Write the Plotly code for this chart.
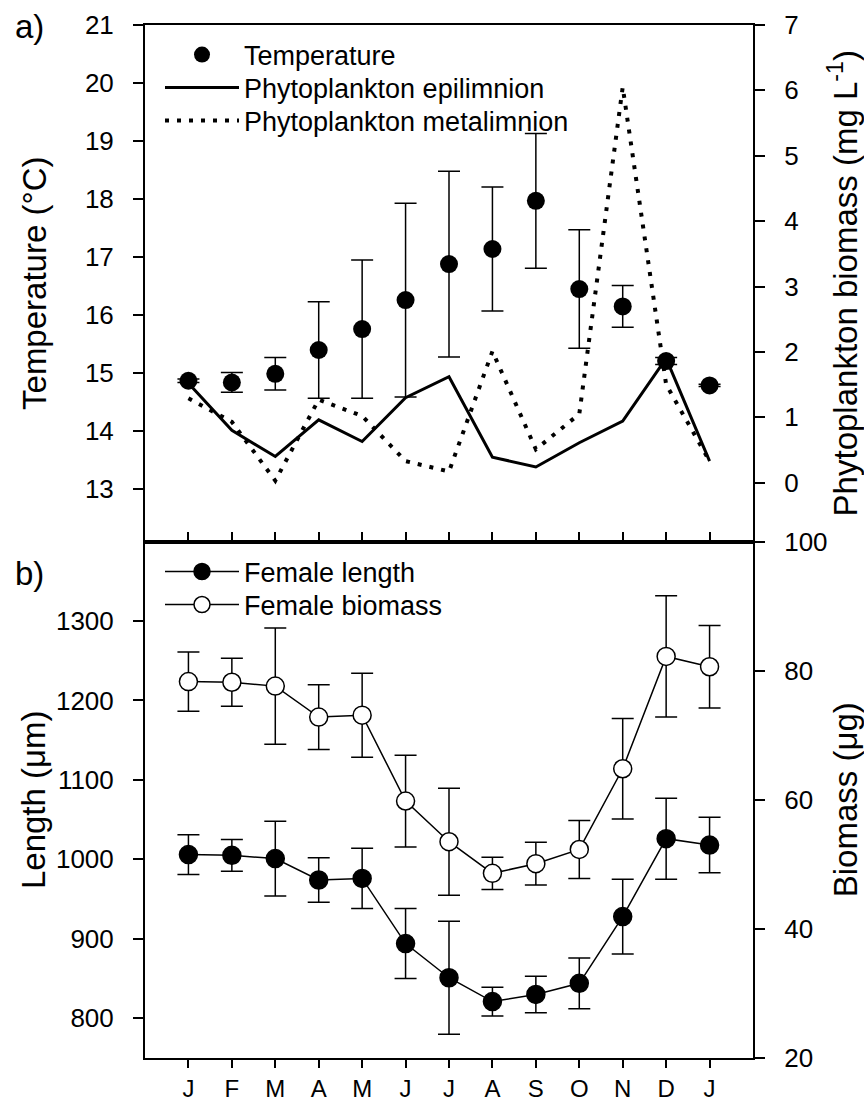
import plotly.graph_objects as go

months = ["J", "F", "M", "A", "M", "J", "J", "A", "S", "O", "N", "D", "J"]
month_idx = list(range(1, 14))

# Panel a
temperature = [14.87, 14.84, 14.99, 15.40, 15.76, 16.26, 16.88, 17.14, 17.97, 16.45, 16.15, 15.21, 14.79]
temperature_err = [0.03, 0.17, 0.28, 0.83, 1.19, 1.67, 1.60, 1.07, 1.16, 1.02, 0.36, 0.06, 0.02]
phyto_epi = [1.52, 0.80, 0.40, 0.96, 0.63, 1.30, 1.62, 0.39, 0.24, 0.61, 0.94, 1.90, 0.33]
phyto_meta = [1.29, 0.93, 0.03, 1.27, 1.02, 0.33, 0.17, 2.01, 0.51, 1.05, 6.05, 1.50, 0.33]

# Panel b
female_length = [1006, 1005, 1001, 974, 976, 894, 851, 821, 830, 844, 928, 1026, 1018]
female_length_err = [25, 20, 47, 28, 38, 44, 71, 18, 23, 32, 47, 51, 35]
female_biomass = [78.3, 78.2, 77.6, 72.8, 73.1, 59.8, 53.5, 48.6, 50.1, 52.3, 64.8, 82.2, 80.6]
female_biomass_err = [4.6, 3.7, 9.0, 5.0, 6.5, 7.1, 8.3, 2.5, 3.3, 4.5, 7.8, 9.4, 6.4]

FONT = "Liberation Sans, Arial, sans-serif"
TICK = 26
MONTH = 24
LEG = 27
TITLE = 33

W, H = 864, 1105
ML, MR, MT, MB = 145, 111, 25, 47
plot_w = W - ML - MR
plot_h = H - MT - MB


def paper(xr, yr):
    """window pixel -> paper coords"""
    return (xr - ML) / plot_w, (MT + plot_h - yr) / plot_h


fig = go.Figure()

fig.add_trace(go.Scatter(
    x=month_idx, y=phyto_epi, mode="lines", name="Phytoplankton epilimnion",
    line=dict(color="black", width=3), xaxis="x2", yaxis="y", legend="legend2", showlegend=True))
fig.add_trace(go.Scatter(
    x=month_idx, y=phyto_meta, mode="lines", name="Phytoplankton metalimnion",
    line=dict(color="black", width=4, dash="4px,8px"), xaxis="x2", yaxis="y", legend="legend3",
    showlegend=True))
fig.add_trace(go.Scatter(
    x=month_idx, y=temperature, mode="markers", name="Temperature",
    marker=dict(color="black", size=18),
    error_y=dict(type="data", array=temperature_err, color="black", thickness=1.5, width=11),
    xaxis="x2", yaxis="y2", legend="legend", showlegend=True))

fig.add_trace(go.Scatter(
    x=month_idx, y=female_length, mode="lines+markers", name="Female length",
    line=dict(color="black", width=1.5),
    marker=dict(color="black", size=18, line=dict(color="black", width=1.5)),
    error_y=dict(type="data", array=female_length_err, color="black", thickness=1.5, width=11),
    xaxis="x", yaxis="y3", legend="legend4", showlegend=True))
fig.add_trace(go.Scatter(
    x=month_idx, y=female_biomass, mode="lines+markers", name="Female biomass",
    line=dict(color="black", width=1.5),
    marker=dict(color="white", size=18, line=dict(color="black", width=1.5)),
    error_y=dict(type="data", array=female_biomass_err, color="black", thickness=1.5, width=11),
    xaxis="x", yaxis="y4", legend="legend5", showlegend=True))

axis_common = dict(showline=True, linecolor="black", linewidth=2, showgrid=False, zeroline=False,
                   automargin=False,
                   ticks="outside", ticklen=10, tickwidth=1.5, tickcolor="black",
                   tickfont=dict(family=FONT, size=TICK, color="black"))


def leg(row_y):
    lx, ly = paper(160, row_y)
    return dict(x=lx, y=ly, xanchor="left", yanchor="middle", bgcolor="rgba(0,0,0,0)",
                borderwidth=0, itemwidth=74, visible=True,
                font=dict(family=FONT, size=LEG, color="black"))


fig.update_layout(
    width=W, height=H,
    showlegend=True,
    margin=dict(l=ML, r=MR, t=MT, b=MB, autoexpand=False),
    paper_bgcolor="white", plot_bgcolor="white",
    font=dict(family=FONT, color="black"),
    xaxis=dict(domain=[0, 1], anchor="y3", range=[0, 14], tickvals=month_idx, ticktext=months,
               mirror=True, ticklabelstandoff=0,
               **{**axis_common, "ticklen": 8,
                  "tickfont": dict(family=FONT, size=MONTH, color="black")}),
    xaxis2=dict(domain=[0, 1], anchor="y", range=[0, 14], tickvals=month_idx, showticklabels=False,
                mirror=True, **{**axis_common, "ticks": "inside"}),
    yaxis=dict(domain=[0.5, 1], anchor="x2", side="right", range=[-0.9, 7], tickvals=list(range(0, 8)),
               ticklabelstandoff=14,
               title=dict(text="Phytoplankton biomass (mg L<sup>-1</sup>)", font=dict(size=TITLE), standoff=36),
               **axis_common),
    yaxis2=dict(overlaying="y", anchor="x2", side="left", range=[12.1, 21], tickvals=list(range(13, 22)),
                ticklabelstandoff=14,
                title=dict(text="Temperature (°C)", font=dict(size=TITLE), standoff=28),
                **axis_common),
    yaxis3=dict(domain=[0, 0.5], anchor="x", side="left", range=[750, 1400],
                tickvals=[800, 900, 1000, 1100, 1200, 1300], ticklabelstandoff=14,
                title=dict(text="Length (μm)", font=dict(size=TITLE), standoff=0),
                **axis_common),
    yaxis4=dict(overlaying="y3", anchor="x", side="right", range=[20, 100],
                tickvals=[20, 40, 60, 80, 100], ticklabelstandoff=14,
                title=dict(text="Biomass (μg)", font=dict(size=TITLE), standoff=27),
                **axis_common),
    legend=leg(55),
    legend2=leg(88),
    legend3=leg(121),
    legend4=leg(572),
    legend5=leg(605),
)

ax, ay = paper(29, 27)
bx, by = paper(29, 573)
fig.add_annotation(text="a)", x=ax, y=ay, xref="paper", yref="paper", showarrow=False,
                   xanchor="center", yanchor="middle",
                   font=dict(size=TITLE, family=FONT, color="black"))
fig.add_annotation(text="b)", x=bx, y=by, xref="paper", yref="paper", showarrow=False,
                   xanchor="center", yanchor="middle",
                   font=dict(size=TITLE, family=FONT, color="black"))

# the page body gets no margin so the 864x1105 figure fills the window exactly
fig.write_html("out.html", config={"displayModeBar": False},
               post_script="document.body.style.margin='0';")
